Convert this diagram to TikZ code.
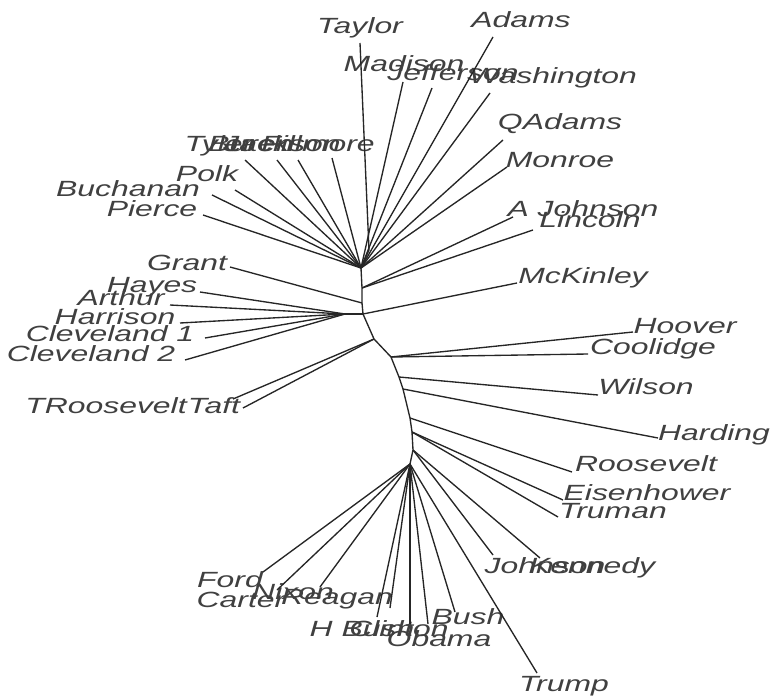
\documentclass[tikz,border=0pt]{standalone}
\usepackage{fontspec}
\setmainfont{Liberation Sans}

\begin{document}
\begin{tikzpicture}[x=1pt, y=-1pt,
		br/.style={draw=black!85, line width=1.35pt},
		lbl/.style={anchor=base, inner sep=0pt, xscale=1.45, text=black!75, font=\fontsize{22}{22}\selectfont\itshape}]
		\useasboundingbox (0,0) rectangle (776,698);
		% inner points of the tree
		\coordinate (A) at (361,268);	\coordinate (U) at (369,250);	\coordinate (B) at (362,288);
		\coordinate (G) at (362,303);	\coordinate (M) at (363,314);	\coordinate (L) at (345,314);
		\coordinate (T) at (374,339);	\coordinate (C) at (391,357);	\coordinate (W) at (399,377);
		\coordinate (H) at (403,389);	\coordinate (R) at (410,418);	\coordinate (E) at (412,432);
		\coordinate (K) at (413,450);	\coordinate (F) at (410,464);
		\draw[br] (A) -- (B) -- (G) -- (M) -- (T) -- (C) -- (W) -- (H) -- (R) -- (E) -- (K) -- (F);
		\draw[br] (L) -- (M);	\draw[br] (A) -- (U);
		% tips and names
		\foreach \nm/\txt/\tx/\ty/\lx/\ly in {
			taylor/Taylor/360/43/360/34, madison/Madison/403/82/404/72, jefferson/Jefferson/432/88/453/81,
			adams/Adams/493/37/521/28, washington/Washington/490/93/553/84, qadams/QAdams/503/140/560/130,
			monroe/Monroe/507/167/560/167, ajohnson/A Johnson/513/217/583/216, lincoln/Lincoln/533/230/590/227,
			mckinley/McKinley/517/283/583/283, hoover/Hoover/633/332/685/333, coolidge/Coolidge/588/354/653/354,
			wilson/Wilson/598/395/646/394, harding/Harding/658/438/714/440, roosevelt/Roosevelt/572/472/646/471,
			eisenhower/Eisenhower/563/500/647/500, truman/Truman/558/517/613/518,
			kennedy/Kennedy/540/558/592/573, johnson/Johnson/493/555/545/573, trump/Trump/537/673/564/691,
			bush/Bush/455/612/468/624, obama/Obama/428/624/439/646, clinton/Clinton/410/624/399/636,
			hbush/H Bush/377/617/362/636, reagan/Reagan/390/608/337/604, nixon/Nixon/320/587/293/599,
			carter/Carter/277/590/241/607, ford/Ford/263/572/230/587,
			tyler/Tyler/245/160/219/151, buren/Buren/277/160/251/151, jackson/Jackson/298/160/282/151,
			fillmore/Fillmore/332/158/318/151, polk/Polk/235/190/207/181, buchanan/Buchanan/212/195/128/196,
			pierce/Pierce/203/215/152/216, grant/Grant/230/267/187/270, hayes/Hayes/200/292/152/292,
			arthur/Arthur/170/305/121/305, harrison/Harrison/180/323/115/324,
			clevelandi/Cleveland 1/205/338/110/341, clevelandii/Cleveland 2/185/360/91/361,
			troosevelt/TRoosevelt/233/399/106/413, taft/Taft/243/408/214/413}{
			\coordinate (tip-\nm) at (\tx,\ty);
			\node[lbl] (\nm) at (\lx,\ly) {\txt};
		}
		% branches
		\foreach \p/\nm in {U/taylor, A/madison, A/jefferson, A/adams, A/washington, A/qadams, A/monroe,
			A/tyler, A/buren, A/jackson, A/fillmore, A/polk, A/buchanan, A/pierce,
			B/ajohnson, B/lincoln, G/grant, M/mckinley,
			L/hayes, L/arthur, L/harrison, L/clevelandi, L/clevelandii,
			T/troosevelt, T/taft, C/hoover, C/coolidge, W/wilson, H/harding, R/roosevelt,
			E/eisenhower, E/truman, K/kennedy, K/johnson,
			F/trump, F/bush, F/obama, F/clinton, F/hbush, F/reagan, F/nixon, F/carter, F/ford}
			\draw[br] (\p) -- (tip-\nm);
	\end{tikzpicture}
\end{document}
